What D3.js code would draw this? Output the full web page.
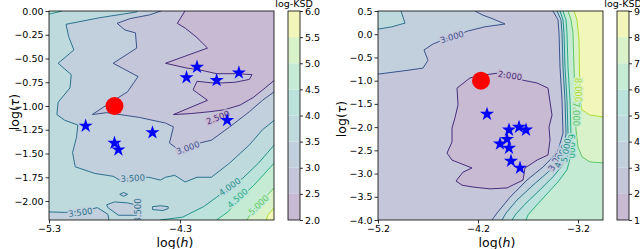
<!DOCTYPE html>
<html>
<head>
<meta charset="utf-8">
<script src="https://cdn.jsdelivr.net/npm/d3@7"></script>
<style>
  body { margin: 0; background: #fff; }
  svg { display: block; font-family: "DejaVu Sans", sans-serif; }
</style>
</head>
<body>
<div id="chart"></div>
<script>
// ---- left panel data ----
const leftLevels = [2.0, 2.5, 3.0, 3.5, 4.0, 4.5, 5.0, 5.5, 6.0];
const leftXTicks = [-5.3, -4.3];
const leftYTicks = [0, -0.25, -0.5, -0.75, -1.0, -1.25, -1.5, -1.75, -2.0];

// contour regions, [log h, log tau]; points outside the axes close the shapes
const leftLt35 = [[-4.60,0.10],[-4.60,0.05],[-4.63,-0.01],[-4.91,-0.07],[-5.17,-0.14],[-5.15,-0.27],[-5.11,-0.41],[-5.23,-0.55],[-5.13,-0.67],[-5.14,-0.81],[-5.23,-0.96],[-5.24,-1.09],[-5.18,-1.15],[-5.08,-1.20],[-5.09,-1.33],[-5.12,-1.49],[-5.10,-1.64],[-4.95,-1.71],[-4.81,-1.74],[-4.76,-1.78],[-4.66,-1.76],[-4.54,-1.75],[-4.45,-1.78],[-4.41,-1.75],[-4.34,-1.73],[-4.26,-1.80],[-4.17,-1.75],[-4.06,-1.75],[-3.92,-1.60],[-3.77,-1.41],[-3.67,-1.25],[-3.58,-1.15],[-3.50,-1.10],[-3.50,0.10]];
const leftLt35Strip = [[-5.40,-2.11],[-5.18,-2.12],[-5.06,-2.11],[-4.93,-2.07],[-4.85,-2.14],[-4.83,-2.30],[-5.40,-2.30]];
const leftLt35Loop = [[-4.86,-2.04],[-4.80,-2.01],[-4.70,-2.02],[-4.64,-2.04],[-4.63,-2.15],[-4.77,-2.15],[-4.85,-2.07]];
const leftLt35Oval = [[-4.51,-2.06],[-4.45,-2.05],[-4.39,-2.06],[-4.39,-2.08],[-4.43,-2.10],[-4.51,-2.09]];
const leftLt35Dot = [[-4.73,-1.91],[-4.70,-1.93],[-4.73,-1.95],[-4.76,-1.93]];
const leftLt30 = [[-4.34,0.10],[-4.34,0.05],[-4.53,-0.04],[-4.68,-0.08],[-4.78,-0.13],[-4.72,-0.20],[-4.64,-0.23],[-4.63,-0.39],[-4.81,-0.55],[-4.62,-0.69],[-4.70,-0.85],[-4.86,-0.99],[-4.97,-1.09],[-4.86,-1.07],[-4.61,-1.12],[-4.41,-1.18],[-4.35,-1.22],[-4.38,-1.39],[-4.28,-1.49],[-4.15,-1.39],[-4.06,-1.36],[-3.92,-1.22],[-3.77,-1.06],[-3.67,-0.94],[-3.58,-0.85],[-3.50,-0.80],[-3.50,0.10]];
const leftLt25 = [[-4.24,0.10],[-4.24,0.05],[-4.32,-0.13],[-4.26,-0.18],[-4.17,-0.28],[-4.09,-0.39],[-4.41,-0.55],[-4.25,-0.60],[-4.15,-0.62],[-4.02,-0.66],[-3.86,-0.66],[-3.75,-0.67],[-3.77,-0.72],[-3.88,-0.75],[-4.03,-0.76],[-4.17,-0.74],[-4.20,-0.83],[-4.09,-0.94],[-4.35,-1.09],[-4.22,-1.08],[-4.07,-1.06],[-3.96,-1.04],[-3.84,-0.99],[-3.74,-0.91],[-3.65,-0.81],[-3.58,-0.73],[-3.50,-0.70],[-3.50,0.10]];
const leftGt40Corner = [[-5.40,-0.02],[-5.29,-0.03],[-5.20,0.00],[-5.18,0.10],[-5.40,0.10]];
const leftGt40 = [[-4.45,-2.30],[-4.45,-2.20],[-4.28,-2.17],[-4.12,-2.06],[-4.02,-1.96],[-3.92,-1.85],[-3.82,-1.76],[-3.70,-1.60],[-3.58,-1.41],[-3.50,-1.35],[-3.50,-2.30]];
const leftGt45 = [[-4.02,-2.30],[-4.02,-2.20],[-3.93,-2.11],[-3.86,-1.99],[-3.74,-1.84],[-3.58,-1.60],[-3.50,-1.55],[-3.50,-2.30]];
const leftGt50 = [[-3.79,-2.30],[-3.79,-2.20],[-3.71,-2.04],[-3.64,-1.95],[-3.58,-1.86],[-3.50,-1.82],[-3.50,-2.30]];
const leftGt55 = [[-3.64,-2.30],[-3.64,-2.20],[-3.63,-2.15],[-3.58,-2.07],[-3.50,-2.03],[-3.50,-2.30]];

// [level, log h, log tau, angle]
const leftLabels = [[2.5,-4.01,-1.12,-22],[3.0,-4.24,-1.44,-20],[3.5,-4.66,-1.76,-3],[3.5,-5.06,-2.12,-8],[3.5,-4.62,-2.10,-90],[4.0,-3.92,-1.85,-35],[4.5,-3.86,-1.97,-42],[5.0,-3.70,-2.04,-45]];
const leftStars = [[-4.17,-0.59],[-4.25,-0.70],[-4.02,-0.73],[-3.85,-0.65],[-5.02,-1.21],[-3.94,-1.15],[-4.51,-1.28],[-4.80,-1.39],[-4.77,-1.46]];
const leftMinimum = [-4.80, -1.00];

// ---- right panel data ----
const rightLevels = [1, 2, 3, 4, 5, 6, 7, 8, 9];
const rightXTicks = [-5.2, -4.2, -3.2];
const rightYTicks = [0.5, 0, -0.5, -1.0, -1.5, -2.0, -2.5, -3.0, -3.5, -4.0];

const rightLt20 = [[-4.28,-0.94],[-4.15,-0.88],[-4.01,-0.84],[-3.88,-0.88],[-3.75,-0.99],[-3.61,-1.05],[-3.50,-1.16],[-3.48,-1.46],[-3.46,-1.74],[-3.49,-2.00],[-3.48,-2.28],[-3.50,-2.60],[-3.61,-2.71],[-3.73,-2.88],[-3.75,-3.14],[-3.91,-3.31],[-4.08,-3.33],[-4.25,-3.29],[-4.36,-3.25],[-4.42,-3.16],[-4.35,-2.97],[-4.26,-2.88],[-4.33,-2.82],[-4.46,-2.71],[-4.51,-2.56],[-4.46,-2.32],[-4.46,-2.02],[-4.43,-1.80],[-4.40,-1.52],[-4.41,-1.16]];
const rightGt30TopLeft = [[-5.30,-0.85],[-5.20,-0.86],[-4.95,-0.79],[-4.75,-0.73],[-4.70,-0.56],[-4.74,-0.34],[-4.65,-0.21],[-4.58,-0.15],[-4.46,-0.06],[-4.30,0.07],[-4.13,0.16],[-3.93,0.22],[-4.05,0.33],[-4.15,0.41],[-4.23,0.50],[-4.25,0.60],[-5.30,0.60]];
const rightGt40Corner = [[-5.30,0.11],[-5.20,0.11],[-5.06,0.16],[-4.93,0.24],[-4.95,0.37],[-4.97,0.50],[-4.98,0.60],[-5.30,0.60]];
const rightGt30 = [[-3.46,0.60],[-3.45,0.50],[-3.40,0.31],[-3.39,0.03],[-3.38,-0.71],[-3.36,-1.42],[-3.35,-2.13],[-3.39,-2.43],[-3.45,-2.64],[-3.55,-2.86],[-3.71,-3.14],[-3.88,-3.51],[-4.01,-3.85],[-4.06,-4.00],[-4.09,-4.10],[-2.80,-4.10],[-2.80,0.60]];
const rightGt40 = [[-3.42,0.60],[-3.41,0.50],[-3.37,0.31],[-3.36,0.03],[-3.35,-0.71],[-3.33,-1.42],[-3.32,-2.13],[-3.34,-2.49],[-3.40,-2.75],[-3.50,-2.97],[-3.65,-3.25],[-3.81,-3.57],[-3.92,-3.85],[-3.96,-4.00],[-3.99,-4.10],[-2.80,-4.10],[-2.80,0.60]];
const rightGt50 = [[-3.39,0.60],[-3.38,0.50],[-3.35,0.31],[-3.34,0.03],[-3.33,-0.71],[-3.31,-1.42],[-3.30,-2.13],[-3.31,-2.54],[-3.36,-2.84],[-3.45,-3.07],[-3.58,-3.35],[-3.73,-3.66],[-3.82,-3.87],[-3.86,-4.00],[-3.89,-4.10],[-2.80,-4.10],[-2.80,0.60]];
const rightGt60 = [[-3.36,0.60],[-3.35,0.50],[-3.32,0.31],[-3.31,0.03],[-3.30,-0.71],[-3.28,-1.42],[-3.27,-2.17],[-3.27,-2.60],[-3.31,-2.92],[-3.40,-3.18],[-3.52,-3.46],[-3.63,-3.72],[-3.70,-3.89],[-3.72,-4.00],[-3.74,-4.10],[-2.80,-4.10],[-2.80,0.60]];
const rightGt70 = [[-3.31,0.60],[-3.30,0.50],[-3.27,0.31],[-3.25,0.03],[-3.24,-0.71],[-3.23,-1.42],[-3.22,-2.06],[-3.20,-2.43],[-3.16,-2.64],[-3.08,-2.75],[-2.95,-2.77],[-2.80,-2.77],[-2.80,0.60]];
const rightGt80 = [[-3.25,0.60],[-3.24,0.50],[-3.21,0.31],[-3.19,-0.12],[-3.18,-1.42],[-3.16,-1.63],[-3.08,-1.74],[-2.95,-1.78],[-2.80,-1.78],[-2.80,0.60]];

const rightLabels = [[3,-4.46,-0.06,-17],[2,-3.88,-0.89,8],[8,-3.20,-1.20,90],[7,-3.22,-1.72,90],[6,-3.27,-2.41,90],[3,-3.42,-2.70,-62],[4,-3.37,-2.62,-72],[5,-3.32,-2.50,-80]];
const rightStars = [[-4.11,-1.72],[-3.89,-2.06],[-3.79,-2.00],[-3.72,-2.06],[-3.91,-2.26],[-3.98,-2.36],[-3.89,-2.45],[-3.87,-2.73],[-3.78,-2.88]];
const rightMinimum = [-4.17, -1.00];

// filled bands are viridis at alpha 0.3 over white, lines are plain viridis
const nBands = 8;
const bandColor = i => d3.interpolateRgb("#ffffff", d3.interpolateViridis((i + 0.5) / nBands))(0.3);
const lineColor = k => d3.interpolateViridis(k / nBands);

const svg = d3.select("#chart").append("svg")
    .attr("width", 640)
    .attr("height", 249);

function drawPanel(p) {
  let x = d3.scaleLinear().domain(p.xDomain).range([p.left, p.right]);
  let y = d3.scaleLinear().domain(p.yDomain).range([p.bottom, p.top]);
  const levelIndex = L => p.levels.findIndex(v => Math.abs(v - L) < 1e-9);

  svg.append("clipPath").attr("id", "clip-" + p.name)
    .append("rect")
      .attr("x", p.left).attr("y", p.top)
      .attr("width", p.right - p.left).attr("height", p.bottom - p.top);

  const plot = svg.append("g").attr("clip-path", `url(#clip-${p.name})`);
  plot.append("rect")
      .attr("x", p.left).attr("y", p.top)
      .attr("width", p.right - p.left).attr("height", p.bottom - p.top)
      .attr("fill", bandColor(p.baseBand));

  const shape = d3.line().x(d => x(d[0])).y(d => y(d[1])).curve(d3.curveLinearClosed);

  // fills first, then the contour lines on top
  p.regions.forEach(r => {
    const k = levelIndex(r.level);
    plot.append("path")
        .attr("d", shape(r.pts))
        .attr("fill", bandColor(r.side === "below" ? k - 1 : k));
  });
  p.regions.forEach(r => {
    plot.append("path")
        .attr("d", shape(r.pts))
        .attr("fill", "none")
        .attr("stroke", lineColor(levelIndex(r.level)))
        .attr("stroke-width", 1)
        .attr("stroke-linejoin", "round");
  });

  // inline contour labels
  p.labels.forEach(([L, lx, ly, ang]) => {
    const k = levelIndex(L);
    plot.append("text")
        .attr("transform", `translate(${x(lx)},${y(ly)}) rotate(${ang})`)
        .attr("text-anchor", "middle")
        .attr("dy", "0.35em")
        .attr("font-size", 8.5)
        .attr("fill", lineColor(k))
        .attr("stroke", bandColor(Math.max(k - 1, 0)))
        .attr("stroke-width", 3)
        .attr("paint-order", "stroke")
        .text(d3.format(".3f")(L));
  });

  plot.selectAll(".star").data(p.stars).join("path")
      .attr("class", "star")
      .attr("transform", d => `translate(${x(d[0])},${y(d[1])})`)
      .attr("d", d3.symbol(d3.symbolStar).size(62))
      .attr("fill", "#0000ff");

  svg.append("circle")
      .attr("cx", x(p.minimum[0]))
      .attr("cy", y(p.minimum[1]))
      .attr("r", 9)
      .attr("fill", "#ff0000");

  svg.append("rect")
      .attr("x", p.left).attr("y", p.top)
      .attr("width", p.right - p.left).attr("height", p.bottom - p.top)
      .attr("fill", "none").attr("stroke", "#000").attr("stroke-width", 0.8);

  // axes
  const styleAxis = g => {
    g.select(".domain").remove();
    g.attr("font-family", "DejaVu Sans").attr("font-size", 9.5);
    g.selectAll(".tick line").attr("stroke", "#000").attr("stroke-width", 0.8);
    g.selectAll(".tick text").attr("fill", "#000");
  };
  svg.append("g")
      .attr("transform", `translate(0,${p.bottom})`)
      .call(d3.axisBottom(x).tickValues(p.xTicks).tickFormat(d3.format(".1f")).tickSize(3.5).tickPadding(2))
      .call(styleAxis);
  svg.append("g")
      .attr("transform", `translate(${p.left},0)`)
      .call(d3.axisLeft(y).tickValues(p.yTicks).tickFormat(d3.format(p.yFormat)).tickSize(3.5).tickPadding(2))
      .call(styleAxis);

  const xl = svg.append("text")
      .attr("x", p.xLabelX).attr("y", 246.5)
      .attr("text-anchor", "middle").attr("font-size", 12.5);
  xl.append("tspan").text("log(");
  xl.append("tspan").attr("font-style", "italic").text("h");
  xl.append("tspan").text(")");

  const yl = svg.append("text")
      .attr("transform", `translate(${p.yLabelX},${p.yLabelY}) rotate(-90)`)
      .attr("text-anchor", "middle").attr("font-size", 12.5);
  yl.append("tspan").text("log(");
  yl.append("tspan").attr("font-style", "italic").text("τ");
  yl.append("tspan").text(")");

  // colorbar
  const cb = d3.scaleLinear()
      .domain([p.levels[0], p.levels[p.levels.length - 1]])
      .range([p.bottom, p.top]);
  svg.append("g").selectAll("rect")
    .data(d3.pairs(p.levels))
    .join("rect")
      .attr("x", p.cbLeft)
      .attr("y", d => cb(d[1]))
      .attr("width", p.cbWidth)
      .attr("height", d => cb(d[0]) - cb(d[1]))
      .attr("fill", (d, i) => bandColor(i));
  svg.append("rect")
      .attr("x", p.cbLeft).attr("y", p.top)
      .attr("width", p.cbWidth).attr("height", p.bottom - p.top)
      .attr("fill", "none").attr("stroke", "#000").attr("stroke-width", 0.8);
  svg.append("g")
      .attr("transform", `translate(${p.cbLeft + p.cbWidth},0)`)
      .call(d3.axisRight(cb).tickValues(p.levels).tickFormat(d3.format(p.cbFormat)).tickSize(3).tickPadding(2))
      .call(styleAxis);
  svg.append("text")
      .attr("x", p.cbLeft + p.cbWidth / 2).attr("y", 6.5)
      .attr("text-anchor", "middle").attr("font-size", 9.5)
      .text("log-KSD");
}

drawPanel({
  name: "left", left: 49, right: 274, top: 11, bottom: 220,
  xDomain: [-5.3, -3.582], yDomain: [-2.2, 0],
  xTicks: leftXTicks, yTicks: leftYTicks, yFormat: ".2f",
  levels: leftLevels, cbFormat: ".1f", cbLeft: 288, cbWidth: 12,
  xLabelX: 175, yLabelX: 19, yLabelY: 112,
  baseBand: 3,
  regions: [
    {pts: leftLt35, level: 3.5, side: "below"},
    {pts: leftLt35Strip, level: 3.5, side: "below"},
    {pts: leftLt35Loop, level: 3.5, side: "below"},
    {pts: leftLt35Oval, level: 3.5, side: "below"},
    {pts: leftLt35Dot, level: 3.5, side: "below"},
    {pts: leftLt30, level: 3.0, side: "below"},
    {pts: leftLt25, level: 2.5, side: "below"},
    {pts: leftGt40Corner, level: 4.0, side: "above"},
    {pts: leftGt40, level: 4.0, side: "above"},
    {pts: leftGt45, level: 4.5, side: "above"},
    {pts: leftGt50, level: 5.0, side: "above"},
    {pts: leftGt55, level: 5.5, side: "above"}
  ],
  labels: leftLabels, stars: leftStars, minimum: leftMinimum
});

drawPanel({
  name: "right", left: 378, right: 603, top: 11, bottom: 220,
  xDomain: [-5.2, -2.95], yDomain: [-4.0, 0.5],
  xTicks: rightXTicks, yTicks: rightYTicks, yFormat: ".1f",
  levels: rightLevels, cbFormat: "d", cbLeft: 617, cbWidth: 12,
  xLabelX: 497, yLabelX: 346, yLabelY: 119,
  baseBand: 1,
  regions: [
    {pts: rightLt20, level: 2, side: "below"},
    {pts: rightGt30TopLeft, level: 3, side: "above"},
    {pts: rightGt40Corner, level: 4, side: "above"},
    {pts: rightGt30, level: 3, side: "above"},
    {pts: rightGt40, level: 4, side: "above"},
    {pts: rightGt50, level: 5, side: "above"},
    {pts: rightGt60, level: 6, side: "above"},
    {pts: rightGt70, level: 7, side: "above"},
    {pts: rightGt80, level: 8, side: "above"}
  ],
  labels: rightLabels, stars: rightStars, minimum: rightMinimum
});
</script>
</body>
</html>
